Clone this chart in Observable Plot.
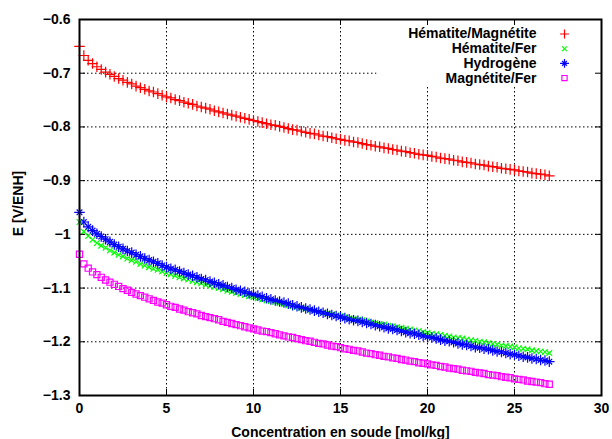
<!DOCTYPE html>
<html><head><meta charset="utf-8">
<script src="https://cdn.jsdelivr.net/npm/d3@7"></script>
<script src="https://cdn.jsdelivr.net/npm/@observablehq/plot@0.6"></script>
<style>body{margin:0;background:#fff;}</style>
</head><body><div id="chart"></div>
<script>
const conc = [
  0,0.25,0.5,0.75, 1,1.25,1.5,1.75, 2,2.25,2.5,2.75, 3,3.25,3.5,3.75, 4,4.25,4.5,4.75,
  5,5.25,5.5,5.75, 6,6.25,6.5,6.75, 7,7.25,7.5,7.75, 8,8.25,8.5,8.75, 9,9.25,9.5,9.75,
  10,10.25,10.5,10.75, 11,11.25,11.5,11.75, 12,12.25,12.5,12.75, 13,13.25,13.5,13.75,
  14,14.25,14.5,14.75, 15,15.25,15.5,15.75, 16,16.25,16.5,16.75, 17,17.25,17.5,17.75,
  18,18.25,18.5,18.75, 19,19.25,19.5,19.75, 20,20.25,20.5,20.75, 21,21.25,21.5,21.75,
  22,22.25,22.5,22.75, 23,23.25,23.5,23.75, 24,24.25,24.5,24.75, 25,25.25,25.5,25.75,
  26,26.25,26.5,26.75, 27
];
const hematiteMagnetite = [
  -0.650,-0.667,-0.676,-0.682, -0.688,-0.693,-0.698,-0.702, -0.706,-0.710,-0.713,-0.717,
  -0.720,-0.724,-0.727,-0.730, -0.733,-0.735,-0.738,-0.741, -0.744,-0.746,-0.749,-0.751,
  -0.754,-0.756,-0.758,-0.761, -0.763,-0.765,-0.767,-0.770, -0.772,-0.774,-0.776,-0.778,
  -0.780,-0.782,-0.784,-0.786, -0.788,-0.790,-0.792,-0.794, -0.796,-0.797,-0.799,-0.801,
  -0.803,-0.805,-0.806,-0.808, -0.810,-0.812,-0.813,-0.815, -0.817,-0.818,-0.820,-0.822,
  -0.823,-0.825,-0.826,-0.828, -0.829,-0.831,-0.833,-0.834, -0.836,-0.837,-0.839,-0.840,
  -0.842,-0.843,-0.845,-0.846, -0.848,-0.849,-0.851,-0.852, -0.853,-0.855,-0.856,-0.858,
  -0.859,-0.860,-0.862,-0.863, -0.865,-0.866,-0.867,-0.869, -0.870,-0.871,-0.873,-0.874,
  -0.875,-0.877,-0.878,-0.879, -0.880,-0.882,-0.883,-0.884, -0.886,-0.887,-0.888,-0.889,
  -0.891
];
const hematiteFer = [
  -0.977,-0.995,-1.003,-1.010, -1.016,-1.021,-1.025,-1.030, -1.034,-1.038,-1.041,-1.045,
  -1.048,-1.051,-1.055,-1.058, -1.061,-1.064,-1.066,-1.069, -1.072,-1.074,-1.077,-1.080,
  -1.082,-1.084,-1.087,-1.089, -1.091,-1.094,-1.096,-1.098, -1.100,-1.102,-1.105,-1.107,
  -1.109,-1.111,-1.113,-1.115, -1.117,-1.119,-1.121,-1.123, -1.124,-1.126,-1.128,-1.130,
  -1.132,-1.134,-1.135,-1.137, -1.139,-1.141,-1.142,-1.144, -1.146,-1.147,-1.149,-1.151,
  -1.152,-1.154,-1.156,-1.157, -1.159,-1.160,-1.162,-1.164, -1.165,-1.167,-1.168,-1.170,
  -1.171,-1.173,-1.174,-1.176, -1.177,-1.179,-1.180,-1.182, -1.183,-1.185,-1.186,-1.187,
  -1.189,-1.190,-1.192,-1.193, -1.194,-1.196,-1.197,-1.198, -1.200,-1.201,-1.203,-1.204,
  -1.205,-1.207,-1.208,-1.209, -1.210,-1.212,-1.213,-1.214, -1.216,-1.217,-1.218,-1.219,
  -1.221
];
const hydrogene = [
  -0.959,-0.977,-0.986,-0.993, -0.999,-1.004,-1.009,-1.014, -1.019,-1.023,-1.027,-1.031,
  -1.034,-1.038,-1.041,-1.045, -1.048,-1.051,-1.054,-1.058, -1.061,-1.064,-1.066,-1.069,
  -1.072,-1.075,-1.077,-1.080, -1.083,-1.085,-1.088,-1.090, -1.093,-1.095,-1.098,-1.100,
  -1.103,-1.105,-1.107,-1.110, -1.112,-1.114,-1.116,-1.119, -1.121,-1.123,-1.125,-1.127,
  -1.129,-1.132,-1.134,-1.136, -1.138,-1.140,-1.142,-1.144, -1.146,-1.148,-1.150,-1.152,
  -1.154,-1.156,-1.158,-1.160, -1.161,-1.163,-1.165,-1.167, -1.169,-1.171,-1.173,-1.175,
  -1.176,-1.178,-1.180,-1.182, -1.184,-1.185,-1.187,-1.189, -1.191,-1.192,-1.194,-1.196,
  -1.198,-1.199,-1.201,-1.203, -1.205,-1.206,-1.208,-1.210, -1.211,-1.213,-1.214,-1.216,
  -1.218,-1.219,-1.221,-1.223, -1.224,-1.226,-1.228,-1.229, -1.231,-1.232,-1.234,-1.235,
  -1.237
];
const magnetiteFer = [
  -1.037,-1.055,-1.063,-1.070, -1.075,-1.080,-1.085,-1.089, -1.093,-1.097,-1.101,-1.104,
  -1.108,-1.111,-1.114,-1.117, -1.120,-1.123,-1.126,-1.128, -1.131,-1.134,-1.136,-1.139,
  -1.141,-1.144,-1.146,-1.148, -1.151,-1.153,-1.155,-1.157, -1.159,-1.162,-1.164,-1.166,
  -1.168,-1.170,-1.172,-1.174, -1.176,-1.178,-1.180,-1.181, -1.183,-1.185,-1.187,-1.189,
  -1.191,-1.192,-1.194,-1.196, -1.198,-1.199,-1.201,-1.203, -1.204,-1.206,-1.208,-1.209,
  -1.211,-1.213,-1.214,-1.216, -1.217,-1.219,-1.221,-1.222, -1.224,-1.225,-1.227,-1.228,
  -1.230,-1.231,-1.233,-1.234, -1.236,-1.237,-1.239,-1.240, -1.241,-1.243,-1.244,-1.246,
  -1.247,-1.249,-1.250,-1.251, -1.253,-1.254,-1.255,-1.257, -1.258,-1.259,-1.261,-1.262,
  -1.263,-1.265,-1.266,-1.267, -1.269,-1.270,-1.271,-1.273, -1.274,-1.275,-1.276,-1.278,
  -1.279
];
const seriesNames = ["Hématite/Magnétite", "Hématite/Fer", "Hydrogène", "Magnétite/Fer"];
const seriesValues = [hematiteMagnetite, hematiteFer, hydrogene, magnetiteFer];
const seriesColors = ["#ff0000", "#00ff00", "#0000ff", "#ff00ff"];
const seriesSymbols = [["plus"], ["times"], ["plus", "times"], ["square2"]];
const xTicks = [0, 5, 10, 15, 20, 25, 30];
const yTicks = [-1.3, -1.2, -1.1, -1, -0.9, -0.8, -0.7, -0.6];
const xLabel = "Concentration en soude [mol/kg]";
const yLabel = "E [V/ENH]";

const symbolR = {plus: 3.5, times: 2.7, square2: 3.9};
const W = 612, H = 439, mL = 79, mR = 11, mT = 19, mB = 44;
const innerW = W - mL - mR, innerH = H - mT - mB;
const tickLen = 6;

const grid = {stroke: "black", strokeOpacity: 1, strokeWidth: 1, strokeDasharray: "1.5,2.5"};

const dataMarks = [];
seriesValues.forEach((vals, i) => {
  const rows = conc.map((x, j) => ({x, y: vals[j]}));
  for (const s of seriesSymbols[i]) {
    dataMarks.push(Plot.dot(rows, {x: "x", y: "y", symbol: () => s, r: symbolR[s],
      fill: "none", stroke: seriesColors[i], strokeWidth: 1.2}));
  }
});

const legendMarks = [];
const textRight = 65, markerRight = 37, row0 = 14.5, rowStep = 14.7;
seriesNames.forEach((name, i) => {
  legendMarks.push(Plot.text([name], {frameAnchor: "top-right", dx: -textRight, dy: row0 + i * rowStep,
    textAnchor: "end", lineAnchor: "middle", fill: "black"}));
  for (const s of seriesSymbols[i]) {
    legendMarks.push(Plot.dot([0], {frameAnchor: "top-right", dx: -markerRight, dy: row0 + i * rowStep,
      symbol: () => s, r: symbolR[s] * 0.85, fill: "none", stroke: seriesColors[i], strokeWidth: 1.2}));
  }
});

const fmt = d3.format("");
const plot = Plot.plot({
  width: W, height: H,
  marginLeft: mL, marginRight: mR, marginTop: mT, marginBottom: mB,
  style: {fontFamily: "'Liberation Sans', Arial, sans-serif", fontSize: "14px", fontWeight: "bold", color: "black", background: "white"},
  x: {domain: [0, 30]},
  y: {domain: [-1.3, -0.6]},
  marks: [
    Plot.gridX(xTicks.slice(1, -1), grid),
    Plot.gridY(yTicks.slice(1, -1), grid),
    Plot.frame({fill: "white", stroke: "none", insetLeft: 297, insetBottom: 309}),
    ...dataMarks,
    Plot.ruleX(xTicks, {x: d => d, insetTop: innerH - tickLen, stroke: "black"}),
    Plot.ruleX(xTicks, {x: d => d, insetBottom: innerH - tickLen, stroke: "black"}),
    Plot.ruleY(yTicks, {y: d => d, insetRight: innerW - tickLen, stroke: "black"}),
    Plot.ruleY(yTicks, {y: d => d, insetLeft: innerW - tickLen, stroke: "black"}),
    Plot.frame({stroke: "black", strokeWidth: 2}),
    Plot.axisX(xTicks, {tickSize: 0, tickPadding: 8, tickFormat: fmt, label: null}),
    Plot.axisY(yTicks, {tickSize: 0, tickPadding: 9, tickFormat: fmt, label: null}),
    Plot.text([xLabel], {frameAnchor: "bottom", dy: 37, textAnchor: "middle", lineAnchor: "middle", fill: "black"}),
    Plot.text([yLabel], {frameAnchor: "left", dx: -61, dy: -4, rotate: -90, textAnchor: "middle", lineAnchor: "middle", fill: "black"}),
    ...legendMarks
  ]
});
document.getElementById("chart").appendChild(plot);
</script>
</body></html>
